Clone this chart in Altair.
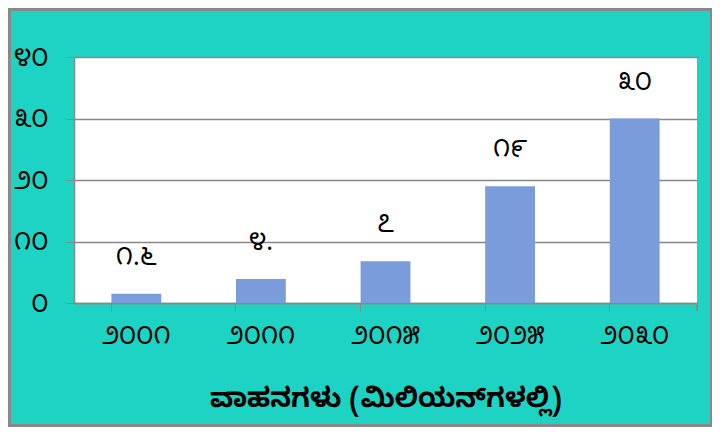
import altair as alt
import pandas as pd

years = ["೨೦೦೧", "೨೦೧೧", "೨೦೧೫", "೨೦೨೫", "೨೦೩೦"]
values = [1.5, 3.9, 6.8, 19.0, 30.0]
value_labels = ["೧.೬", "೪.", "೭", "೧೯", "೩೦"]
y_ticks = [0, 10, 20, 30, 40]
y_tick_labels = ["೦", "೧೦", "೨೦", "೩೦", "೪೦"]
x_title = "ವಾಹನಗಳು (ಮಿಲಿಯನ್‌ಗಳಲ್ಲಿ)"

df = pd.DataFrame({"year": years, "value": values, "label": value_labels})

label_expr = "[" + ",".join("'" + s + "'" for s in y_tick_labels) + "][datum.value / 10]"

FONT = "Noto Sans Kannada, Noto Sans"

x_enc = alt.X(
    "year:N",
    sort=years,
    scale=alt.Scale(paddingInner=0.6, paddingOuter=0.3),
    axis=alt.Axis(
        title=x_title,
        titleFont=FONT,
        titleFontSize=27,
        titleFontWeight="bold",
        titleColor="#000000",
        titlePadding=37,
        labelAngle=0,
        labelFont=FONT,
        labelFontSize=25,
        labelColor="#000000",
        labelPadding=12,
        bandPosition=0,
        tickColor="#888888",
        tickSize=8,
        domainColor="#888888",
        domainWidth=1.5,
    ),
)

bars = alt.Chart(df).mark_bar(color="#7B9CDB").encode(
    x=x_enc,
    y=alt.Y(
        "value:Q",
        scale=alt.Scale(domain=[0, 40]),
        axis=alt.Axis(
            title=None,
            values=y_ticks,
            labelExpr=label_expr,
            labelFont=FONT,
            labelFontSize=25,
            labelColor="#000000",
            labelPadding=18,
            tickColor="#888888",
            tickSize=8,
            gridColor="#888888",
            gridWidth=1.5,
            domainColor="#888888",
            domainWidth=1.5,
        ),
    ),
)

text = alt.Chart(df).mark_text(
    dy=-37, font=FONT, fontSize=25, color="#000000", baseline="middle"
).encode(
    x=alt.X("year:N", sort=years),
    y="value:Q",
    text="label:N",
)

end_tick = alt.Chart(df).mark_rule(color="#888888", strokeWidth=1.5).encode(
    x=alt.value(623),
    y=alt.value(246),
    y2=alt.value(254),
)

border = alt.Chart(df).mark_rect(
    fill=None, stroke="#888888", strokeWidth=3
).encode(
    x=alt.value(-64.5),
    x2=alt.value(637.5),
    y=alt.value(-47.5),
    y2=alt.value(368.5),
)

chart = (
    alt.layer(bars, text, end_tick, border)
    .properties(
        width=623,
        height=246,
        background="#1DD3C4",
        padding={"left": 66, "top": 49, "right": 15, "bottom": 124},
        autosize=alt.AutoSizeParams(type="none"),
        view=alt.ViewBackground(fill="#FFFFFF", strokeWidth=0),
    )
)

chart.save("out.html", embed_options={"renderer": "svg", "actions": False})
